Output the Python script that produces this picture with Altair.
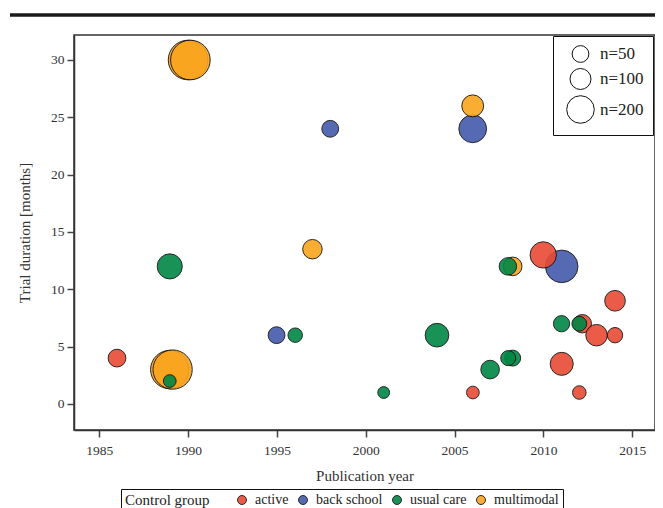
import altair as alt
import pandas as pd

# ---- data ----
groups_order = ["active", "back school", "usual care", "multimodal"]
group_colors = ["#E84B35", "#4459AB", "#008744", "#F9A51E"]

# drawing order: back school, multimodal, active, usual care
bs_year = [1994.98, 1998.0, 2006.02, 2011.03]
bs_dur = [6, 24, 24, 12]
bs_n = [51, 51, 203, 293]

mm_year = [1990.0, 1990.13, 1988.97, 1989.13, 1997.0, 2006.02, 2008.27]
mm_dur = [30, 30, 3, 3, 13.5, 26, 12]
mm_n = [453, 453, 423, 444, 81, 112, 71]

ac_year = [1986.0, 2006.03, 2009.99, 2011.03, 2012.02, 2012.19, 2012.99, 2014.03, 2014.03]
ac_dur = [4, 1, 13, 3.5, 1, 7, 6, 9, 6]
ac_n = [61, 13, 179, 128, 20, 68, 107, 96, 36]

uc_year = [1988.97, 1988.97, 1996.03, 2001.01, 2004.01, 2007.0, 2008.27, 2008.02, 2008.0, 2011.02, 2012.02]
uc_dur = [12, 2, 6, 1, 6, 3, 4, 4, 12, 7, 7]
uc_n = [159, 13, 28, 6, 137, 71, 42, 33, 58, 45, 31]

x_ticks = [1985, 1990, 1995, 2000, 2005, 2010, 2015]
y_ticks = [0, 5, 10, 15, 20, 25, 30]
size_legend_values = [50, 100, 200]

rows = []
for g, ys, ds, ns in [("back school", bs_year, bs_dur, bs_n),
                      ("multimodal", mm_year, mm_dur, mm_n),
                      ("active", ac_year, ac_dur, ac_n),
                      ("usual care", uc_year, uc_dur, uc_n)]:
    for a, b, c in zip(ys, ds, ns):
        rows.append({"group": g, "year": a, "duration": b, "n": c})
df = pd.DataFrame(rows)
df["ord"] = range(len(df))

SERIF = "Liberation Serif"

points = alt.Chart(df).mark_circle(
    stroke="#111111", strokeWidth=1, opacity=0.9
).encode(
    x=alt.X("year:Q",
            scale=alt.Scale(domain=[1983.58, 2016.28], nice=False, zero=False),
            axis=alt.Axis(values=x_ticks, format="d", title="Publication year",
                          labelPadding=6, titlePadding=12)),
    y=alt.Y("duration:Q",
            scale=alt.Scale(domain=[-2.27, 32.18], nice=False, zero=False),
            axis=alt.Axis(values=y_ticks, title="Trial duration [months]",
                          labelPadding=3, titlePadding=18)),
    color=alt.Color("group:N",
                    scale=alt.Scale(domain=groups_order, range=group_colors),
                    legend=alt.Legend(
                        title="Control group", orient="none", legendX=47, legendY=454,
                        direction="horizontal", titleOrient="left", titlePadding=25,
                        titleFont=SERIF, titleFontSize=15, titleFontWeight="normal",
                        titleColor="#222222", titleBaseline="middle",
                        labelFont=SERIF, labelFontSize=14, labelColor="#222222",
                        labelOffset=6, columnPadding=7,
                        symbolType="circle", symbolSize=80, symbolStrokeColor="#111111",
                        symbolStrokeWidth=1, symbolOpacity=0.9,
                        strokeColor="#111111", padding=4, fillColor="white")),
    size=alt.Size("n:Q",
                  scale=alt.Scale(domain=[0, 500], range=[120, 1720], zero=False),
                  legend=alt.Legend(
                      title=None, orient="none", legendX=479, legendY=1,
                      values=size_legend_values, labelExpr="'n=' + datum.label",
                      labelFont=SERIF, labelFontSize=17, labelColor="#222222",
                      labelOffset=5, rowPadding=1, symbolOffset=4,
                      symbolType="circle", symbolFillColor="white",
                      symbolStrokeColor="#111111", symbolStrokeWidth=1, symbolOpacity=1,
                      strokeColor="#111111", padding=9, fillColor="white")),
    order=alt.Order("ord:Q"),
)

top_rule = alt.Chart(pd.DataFrame({"a": [0]})).mark_rule(
    color="#1a1a1a", strokeWidth=3.5
).encode(x=alt.value(-64), x2=alt.value(600), y=alt.value(-20))

chart = alt.layer(points, top_rule).properties(
    width=581, height=395,
    autosize=alt.AutoSizeParams(type="none"),
    padding={"left": 66, "top": 27, "right": 0, "bottom": 78},
).configure_view(
    stroke="#333333", strokeWidth=1.5
).configure_axis(
    grid=False, labelFont=SERIF, labelFontSize=13.5, labelColor="#333333",
    titleFont=SERIF, titleFontSize=15, titleFontWeight="normal", titleColor="#333333",
    domainColor="#333333", domainWidth=1.5, tickColor="#444444", tickWidth=1.5, tickSize=7,
)

chart.save("out.html", embed_options={"renderer": "svg", "actions": False})
